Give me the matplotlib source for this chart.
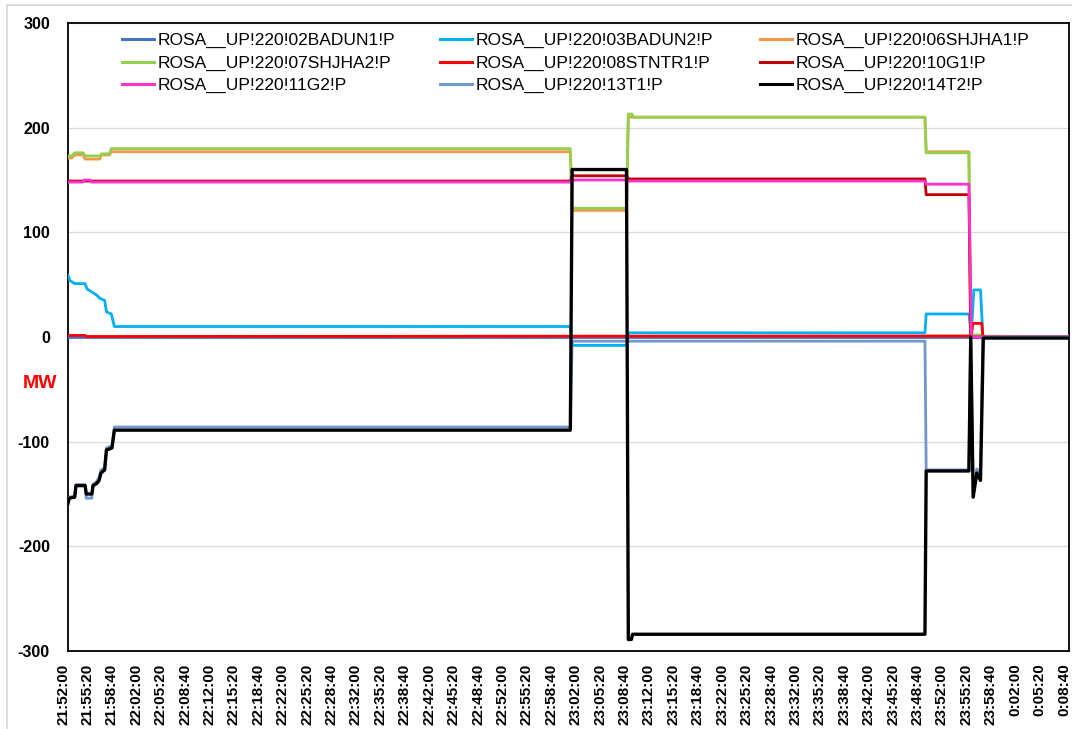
import matplotlib
matplotlib.use("Agg")
import matplotlib.pyplot as plt
import matplotlib.transforms as mtransforms
from matplotlib.lines import Line2D

plt.rcParams['font.family'] = ['Liberation Sans', 'DejaVu Sans']

W, H = 1072, 729

# ---- series: sample times (clock) and active power (MW) ----
t_02badun1 = ["21:52:00", "0:08:40"]
p_02badun1 = [0, 0]

t_03badun2 = ["21:52:00", "21:52:15", "21:52:55", "21:54:20", "21:54:35", "21:55:15",
              "21:55:55", "21:56:20", "21:57:00", "21:57:15", "21:57:55", "21:58:20",
              "23:00:35", "23:00:50", "23:08:15", "23:08:30", "23:49:00", "23:49:10",
              "23:55:00", "23:55:20", "23:55:40", "23:56:35", "23:56:55", "0:08:40"]
p_03badun2 = [59, 54, 51, 51, 46, 43,
              40, 37, 35, 24, 22, 10,
              10, -8, -8, 4, 4, 22,
              22, 2, 45, 45, 0, 0]

t_06shjha1 = ["21:52:00", "21:52:30", "21:52:55", "21:54:05", "21:54:20", "21:56:20",
              "21:56:35", "21:57:40", "21:57:55", "23:00:35", "23:00:50", "23:08:15",
              "23:08:30", "23:49:00", "23:49:10", "23:55:00", "23:55:15", "0:08:40"]
p_06shjha1 = [171, 171, 174, 174, 170, 170,
              174, 174, 177, 177, 121, 121,
              210, 210, 177, 177, 1, 0]

t_07shjha2 = ["21:52:00", "21:52:30", "21:52:55", "21:54:05", "21:54:20", "21:56:20",
              "21:56:35", "21:57:40", "21:57:55", "23:00:35", "23:00:50", "23:08:15",
              "23:08:30", "23:09:00", "23:09:10", "23:49:00", "23:49:10", "23:55:00",
              "23:55:15", "23:56:50", "23:57:00", "0:08:40"]
p_07shjha2 = [173, 173, 176, 176, 173, 173,
              175, 175, 180, 180, 123, 123,
              213, 213, 210, 210, 176, 176,
              2, 2, 0, 0]

t_08stntr1 = ["21:52:00", "21:54:20", "21:54:30", "23:55:20", "23:55:32", "23:56:45",
              "23:56:55", "0:08:40"]
p_08stntr1 = [1.5, 1.5, 0.5, 1, 13, 13, 0, 0]

t_10g1 = ["21:52:00", "23:00:35", "23:00:50", "23:08:15", "23:08:30", "23:49:00",
          "23:49:10", "23:55:00", "23:55:15", "0:08:40"]
p_10g1 = [149, 149, 154, 154, 151, 151, 136, 136, 0, 0]

t_11g2 = ["21:52:00", "21:54:00", "21:54:10", "21:55:00", "21:55:10", "23:00:35",
          "23:00:50", "23:08:15", "23:08:30", "23:49:00", "23:49:10", "23:55:00",
          "23:55:20", "0:08:40"]
p_11g2 = [148, 148, 150, 150, 148, 148,
          150, 150, 149, 149, 146, 146,
          0, 0]

t_13t1 = ["21:52:00", "21:52:10", "21:52:55", "21:53:05", "21:54:20", "21:54:30",
          "21:55:15", "21:55:25", "21:55:55", "21:56:15", "21:56:30", "21:57:00",
          "21:57:15", "21:58:00", "21:58:20", "23:00:35", "23:00:50", "23:08:15",
          "23:08:30", "23:49:00", "23:49:10", "23:55:00", "23:55:15", "23:55:35",
          "23:56:05", "23:56:35", "23:56:55", "0:08:40"]
p_13t1 = [-157, -153, -152, -141, -141, -154,
          -154, -141, -138, -134, -127, -125,
          -106, -104, -86, -86, -4, -4,
          -4, -4, -127, -127, 0, -150,
          -126, -130, 0, 0]

t_14t2 = ["21:52:00", "21:52:10", "21:52:55", "21:53:05", "21:54:20", "21:54:30",
          "21:55:15", "21:55:25", "21:55:55", "21:56:15", "21:56:30", "21:57:00",
          "21:57:15", "21:58:00", "21:58:20", "23:00:35", "23:00:50", "23:08:15",
          "23:08:30", "23:08:55", "23:09:05", "23:49:00", "23:49:10", "23:55:00",
          "23:55:15", "23:55:35", "23:56:05", "23:56:35", "23:56:58", "0:08:40"]
p_14t2 = [-159, -154, -153, -142, -142, -150,
          -150, -142, -140, -137, -130, -127,
          -108, -106, -89, -89, 160, 160,
          -289, -289, -284, -284, -128, -128,
          0, -153, -130, -137, -1, -1]

names = ["ROSA__UP!220!02BADUN1!P", "ROSA__UP!220!03BADUN2!P", "ROSA__UP!220!06SHJHA1!P",
         "ROSA__UP!220!07SHJHA2!P", "ROSA__UP!220!08STNTR1!P", "ROSA__UP!220!10G1!P",
         "ROSA__UP!220!11G2!P", "ROSA__UP!220!13T1!P", "ROSA__UP!220!14T2!P"]
colors = ["#4472C4", "#00B0F0", "#F79646", "#92D050", "#FF0000", "#C00000",
          "#FF33CC", "#7098CC", "#000000"]

x_labels = ["21:52:00", "21:55:20", "21:58:40", "22:02:00", "22:05:20", "22:08:40",
            "22:12:00", "22:15:20", "22:18:40", "22:22:00", "22:25:20", "22:28:40",
            "22:32:00", "22:35:20", "22:38:40", "22:42:00", "22:45:20", "22:48:40",
            "22:52:00", "22:55:20", "22:58:40", "23:02:00", "23:05:20", "23:08:40",
            "23:12:00", "23:15:20", "23:18:40", "23:22:00", "23:25:20", "23:28:40",
            "23:32:00", "23:35:20", "23:38:40", "23:42:00", "23:45:20", "23:48:40",
            "23:52:00", "23:55:20", "23:58:40", "0:02:00", "0:05:20", "0:08:40"]
y_ticks = [-300, -200, -100, 0, 100, 200, 300]


def secs(hms):
    """Seconds elapsed since 21:52:00, rolling over midnight."""
    h, m, s = map(int, hms.split(":"))
    if h < 12:
        h += 24
    return h * 3600 + m * 60 + s - (21 * 3600 + 52 * 60)


series = [(t_02badun1, p_02badun1), (t_03badun2, p_03badun2), (t_06shjha1, p_06shjha1),
          (t_07shjha2, p_07shjha2), (t_08stntr1, p_08stntr1), (t_10g1, p_10g1),
          (t_11g2, p_11g2), (t_13t1, p_13t1), (t_14t2, p_14t2)]

fig = plt.figure(figsize=(W / 100, H / 100), dpi=100)
ax = fig.add_axes([68 / W, 1 - 651 / H, (1069 - 68) / W, (651 - 23) / H])

for (ts, ps), c, n in zip(series, colors, names):
    lw = 2.4 if c == "#000000" else 2.0
    ax.plot([secs(t) for t in ts], ps, color=c, lw=lw, label=n,
            solid_joinstyle="round", zorder=3)

tick_pos = [secs(t) for t in x_labels]
ax.set_xlim(tick_pos[0], tick_pos[-1])
ax.set_ylim(-300, 300)
ax.set_xticks(tick_pos)
ax.set_xticklabels(x_labels, rotation=90, fontsize=11, fontweight="bold")
ax.set_yticks(y_ticks)
ax.set_yticklabels([str(v) for v in y_ticks], fontsize=11.5, fontweight="bold")
ax.tick_params(axis="x", length=0, pad=9)
ax.tick_params(axis="y", length=0, pad=13)
shift = mtransforms.ScaledTranslation(-5 / 100, 0, fig.dpi_scale_trans)
for lab in ax.get_xticklabels():
    lab.set_transform(lab.get_transform() + shift)
ax.yaxis.grid(True, color="#D9D9D9", lw=0.9, zorder=0)
ax.set_axisbelow(True)
for sp in ax.spines.values():
    sp.set_color("black")
    sp.set_linewidth(1.3)

fig.text(40 / W, 1 - 383 / H, "MW", color="#FF0000", fontsize=14,
         fontweight="bold", ha="center", va="center")

# legend: three columns, filled row by row
col_x = [122, 440, 760]
for c in range(3):
    idx = [c, c + 3, c + 6]
    fig.legend([Line2D([], [], color=colors[i], lw=2.2) for i in idx],
               [names[i] for i in idx], loc="upper left",
               bbox_to_anchor=(col_x[c] / W, 1 - 33 / H), frameon=False,
               borderpad=0, borderaxespad=0, handlelength=1.85, handletextpad=0.2,
               labelspacing=0.42, fontsize=12.5)

# chart-area border
fig.add_artist(Line2D([7 / W, 7 / W], [0, 1 - 5 / H], color="#D9D9D9", lw=1.2))
fig.add_artist(Line2D([7 / W, 1], [1 - 5 / H, 1 - 5 / H], color="#D9D9D9", lw=1.2))

fig.savefig("out.png", dpi=100, facecolor="white")
